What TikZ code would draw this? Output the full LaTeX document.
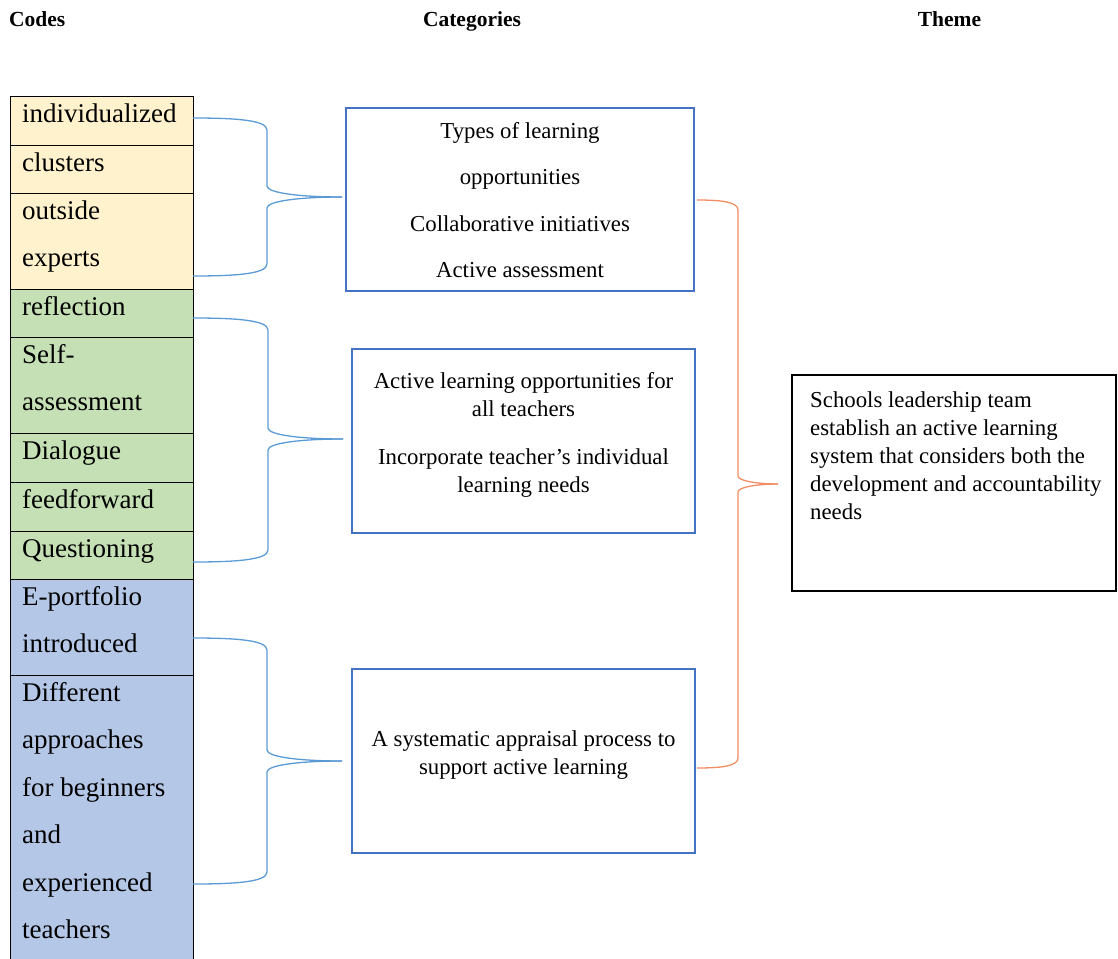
\documentclass[tikz,border=0pt]{standalone}
\usepackage{fontspec}
\setmainfont{Liberation Serif}
\definecolor{cy}{HTML}{FFF2CC}
\definecolor{cg}{HTML}{C5E0B4}
\definecolor{cb}{HTML}{B4C7E7}
\definecolor{boxblue}{HTML}{4472C4}
\definecolor{braceblue}{HTML}{5B9BD5}
\definecolor{braceorange}{rgb}{0.95,0.55,0.39}
\tikzset{
  cell/.style={draw=black, line width=1.1pt, anchor=north west, inner sep=0pt, minimum width=183pt},
  codetxt/.style={anchor=base west, inner sep=0pt, font=\fontsize{27}{32}\selectfont},
  head/.style={inner sep=0pt, font=\fontsize{21.5}{26}\selectfont\bfseries},
  catbox/.style={draw=boxblue, line width=2.2pt, inner sep=0pt},
  themebox/.style={draw=black, line width=2.2pt, inner sep=0pt},
  cattxt/.style={anchor=base, inner sep=0pt, font=\fontsize{22.8}{28}\selectfont},
  themetxt/.style={anchor=base west, inner sep=0pt, font=\fontsize{22.8}{28}\selectfont},
  bracel/.style={draw=braceblue, line width=1.3pt},
  braceo/.style={draw=braceorange, line width=1.3pt}
}
\begin{document}
\begin{tikzpicture}[x=1pt,y=-1pt]
\useasboundingbox (0,0) rectangle (1118,958);
% headers
\node[head, anchor=base west] (hcodes) at (9,27) {Codes};
\node[head, anchor=base] (hcat) at (472,27) {Categories};
\node[head, anchor=base] (htheme) at (949.5,27) {Theme};
% code cells
\node[cell, fill=cy, minimum height=49pt] (r1) at (10,96) {};
\node[cell, fill=cy, minimum height=48pt] (r2) at (10,145) {};
\node[cell, fill=cy, minimum height=96pt] (r3) at (10,193) {};
\node[cell, fill=cg, minimum height=48pt] (r4) at (10,289) {};
\node[cell, fill=cg, minimum height=96pt] (r5) at (10,337) {};
\node[cell, fill=cg, minimum height=49pt] (r6) at (10,433) {};
\node[cell, fill=cg, minimum height=49pt] (r7) at (10,482) {};
\node[cell, fill=cg, minimum height=48pt] (r8) at (10,531) {};
\node[cell, fill=cb, minimum height=96pt] (r9) at (10,579) {};
\node[cell, fill=cb, minimum height=300pt] (r10) at (10,675) {};
% code texts
\node[codetxt] (t1) at (22,122) {individualized};
\node[codetxt] (t2) at (22,171) {clusters};
\node[codetxt] (t3a) at (22,219) {outside};
\node[codetxt] (t3b) at (22,266.5) {experts};
\node[codetxt] (t4) at (22,315) {reflection};
\node[codetxt] (t5a) at (22,363) {Self-};
\node[codetxt] (t5b) at (22,410.5) {assessment};
\node[codetxt] (t6) at (22,459) {Dialogue};
\node[codetxt] (t7) at (22,508) {feedforward};
\node[codetxt] (t8) at (22,557) {Questioning};
\node[codetxt] (t9a) at (22,605) {E-portfolio};
\node[codetxt] (t9b) at (22,652.5) {introduced};
\node[codetxt] (t10a) at (22,701) {Different};
\node[codetxt] (t10b) at (22,748.5) {approaches};
\node[codetxt] (t10c) at (22,796) {for beginners};
\node[codetxt] (t10d) at (22,843.5) {and};
\node[codetxt] (t10e) at (22,891) {experienced};
\node[codetxt] (t10f) at (22,938.5) {teachers};
% category boxes
\node[catbox, minimum width=348pt, minimum height=183pt] (c1) at (520,199.5) {};
\node[catbox, minimum width=343pt, minimum height=184pt] (c2) at (523.5,441) {};
\node[catbox, minimum width=343pt, minimum height=184pt] (c3) at (523.5,761) {};
\node[cattxt] (c1a) at (520,138) {Types of learning};
\node[cattxt] (c1b) at (520,184.5) {opportunities};
\node[cattxt] (c1c) at (520,231) {Collaborative initiatives};
\node[cattxt] (c1d) at (520,277.5) {Active assessment};
\node[cattxt] (c2a) at (523.5,388) {Active learning opportunities for};
\node[cattxt] (c2b) at (523.5,416) {all teachers};
\node[cattxt] (c2c) at (523.5,464) {Incorporate teacher’s individual};
\node[cattxt] (c2d) at (523.5,492) {learning needs};
\node[cattxt] (c3a) at (523.5,746.5) {A systematic appraisal process to};
\node[cattxt] (c3b) at (523.5,774.5) {support active learning};
% theme box
\node[themebox, minimum width=324pt, minimum height=216pt] (th) at (954,483) {};
\node[themetxt] (tha) at (810,407) {Schools leadership team};
\node[themetxt] (thb) at (810,435) {establish an active learning};
\node[themetxt] (thc) at (810,463) {system that considers both the};
\node[themetxt] (thd) at (810,491) {development and accountability};
\node[themetxt] (the) at (810,519) {needs};
% brace end coordinates
\coordinate (b1s) at (193,118);
\coordinate (b1e) at (193,276);
\coordinate (b1t) at (342,197);
\coordinate (b2s) at (193,318);
\coordinate (b2e) at (193,562);
\coordinate (b2t) at (343,439);
\coordinate (b3s) at (193,638);
\coordinate (b3e) at (193,884);
\coordinate (b3t) at (342,761);
\coordinate (b4s) at (697,200);
\coordinate (b4e) at (697,768);
\coordinate (b4t) at (778,484);
% blue braces
\draw[bracel] (b1s) .. controls (235,118) and (267,120) .. (267,130) -- (267,186)
  .. controls (267,193) and (300,197) .. (b1t);
\draw[bracel] (b1e) .. controls (235,276) and (267,274) .. (267,264) -- (267,208)
  .. controls (267,201) and (300,197) .. (b1t);
\draw[bracel] (b2s) .. controls (235,318) and (268,320) .. (268,330) -- (268,428)
  .. controls (268,435) and (301,439) .. (b2t);
\draw[bracel] (b2e) .. controls (235,562) and (268,560) .. (268,550) -- (268,450)
  .. controls (268,443) and (301,439) .. (b2t);
\draw[bracel] (b3s) .. controls (235,638) and (267,640) .. (267,650) -- (267,750)
  .. controls (267,757) and (300,761) .. (b3t);
\draw[bracel] (b3e) .. controls (235,884) and (267,882) .. (267,872) -- (267,772)
  .. controls (267,765) and (300,761) .. (b3t);
% orange brace
\draw[braceo] (b4s) .. controls (722,200) and (738,202) .. (738,210) -- (738,476)
  .. controls (738,481) and (758,484) .. (b4t);
\draw[braceo] (b4e) .. controls (722,768) and (738,766) .. (738,758) -- (738,492)
  .. controls (738,487) and (758,484) .. (b4t);
\end{tikzpicture}
\end{document}
